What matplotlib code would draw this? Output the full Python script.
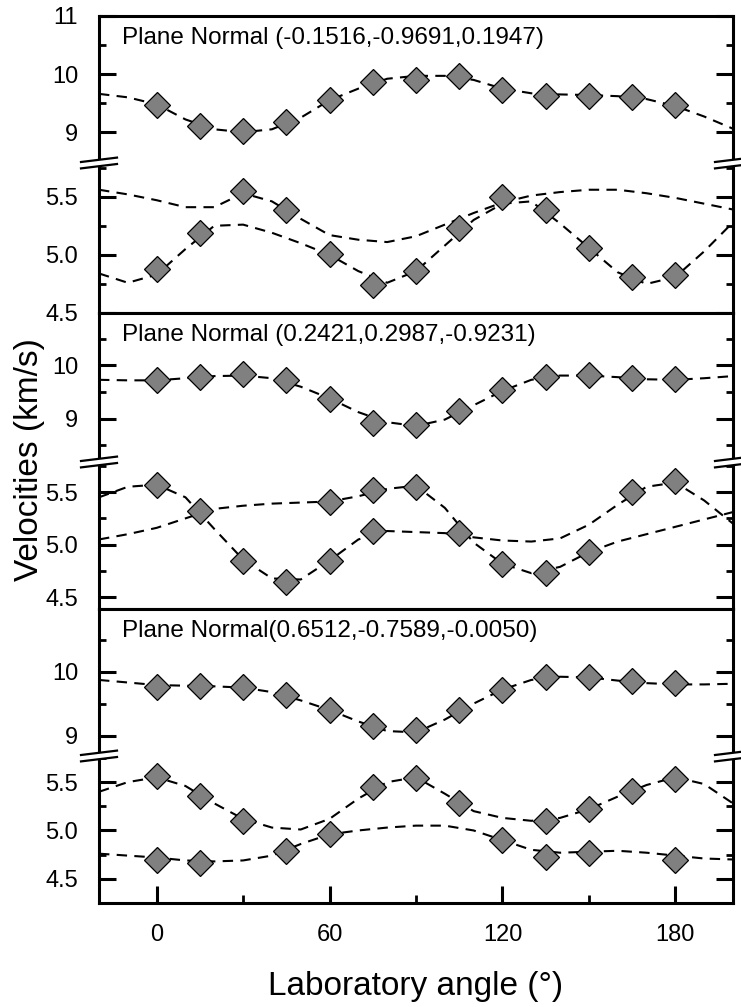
import numpy as np
import matplotlib
matplotlib.use("Agg")
from matplotlib import pyplot as plt
from matplotlib.lines import Line2D
from matplotlib.patches import Polygon
from matplotlib.ticker import MultipleLocator, FormatStrFormatter

plt.rcParams['font.family'] = ['Liberation Sans', 'DejaVu Sans']

nan = np.nan
angles = [0, 15, 30, 45, 60, 75, 90, 105, 120, 135, 150, 165, 180]
fit_angles = [-20, -10, 0, 10, 20, 30, 40, 50, 60, 70, 80, 90, 100,
              110, 120, 130, 140, 150, 160, 170, 180, 190, 200]

labels = ["Plane Normal (-0.1516,-0.9691,0.1947)",
          "Plane Normal (0.2421,0.2987,-0.9231)",
          "Plane Normal(0.6512,-0.7589,-0.0050)"]

# panel 1
p1_up_pts = [9.46, 9.10, 9.02, 9.17, 9.56, 9.87, 9.90, 9.96, 9.72, 9.63, 9.62, 9.60, 9.46]
p1_up_fit = [9.66, 9.60, 9.48, 9.22, 9.05, 9.00, 9.05, 9.25, 9.55, 9.75, 9.92, 9.97, 9.97,
             9.90, 9.75, 9.67, 9.65, 9.64, 9.62, 9.57, 9.45, 9.27, 9.06]
p1_lo_pts_a = [4.88, 5.19, 5.55, 5.39, 5.01, 4.74, 4.86, 5.23, 5.50, 5.39, 5.06, 4.81, 4.83]
p1_lo_pts_b = [nan] * 13
p1_lo_fit_a = [4.84, 4.76, 4.83, 5.05, 5.25, 5.26, 5.19, 5.10, 5.00, 4.86, 4.76, 4.86, 5.08,
               5.30, 5.44, 5.46, 5.27, 5.06, 4.85, 4.75, 4.81, 5.03, 5.28]
p1_lo_fit_b = [5.56, 5.52, 5.47, 5.41, 5.41, 5.53, 5.46, 5.31, 5.17, 5.13, 5.11, 5.16, 5.26,
               5.36, 5.45, 5.51, 5.54, 5.56, 5.56, 5.53, 5.49, 5.44, 5.39]

# panel 2
p2_up_pts = [9.72, 9.79, 9.84, 9.72, 9.37, 8.92, 8.87, 9.14, 9.53, 9.79, 9.82, 9.77, 9.75]
p2_up_fit = [9.73, 9.72, 9.72, 9.76, 9.80, 9.81, 9.76, 9.60, 9.38, 9.12, 8.93, 8.86, 8.98,
             9.25, 9.52, 9.73, 9.81, 9.81, 9.78, 9.74, 9.73, 9.76, 9.80]
p2_lo_pts_a = [5.57, 5.32, 4.85, 4.65, 4.85, 5.13, 5.55, 5.11, 4.82, 4.73, 4.93, 5.50, 5.60]
p2_lo_pts_b = [nan, nan, nan, nan, 5.41, 5.52, nan, nan, nan, nan, nan, nan, nan]
p2_lo_fit_a = [5.45, 5.55, 5.57, 5.45, 5.15, 4.86, 4.68, 4.67, 4.85, 5.05, 5.13, 5.12, 5.11,
               5.07, 5.04, 5.03, 5.06, 5.19, 5.38, 5.55, 5.59, 5.42, 5.20]
p2_lo_fit_b = [5.05, 5.10, 5.16, 5.25, 5.34, 5.37, 5.39, 5.40, 5.41, 5.46, 5.53, 5.56, 5.35,
               5.02, 4.82, 4.73, 4.79, 4.93, 5.03, 5.10, 5.17, 5.24, 5.31]

# panel 3
p3_up_pts = [9.76, 9.78, 9.76, 9.64, 9.40, 9.15, 9.09, 9.40, 9.71, 9.92, 9.92, 9.86, 9.83]
p3_up_fit = [9.87, 9.83, 9.79, 9.78, 9.77, 9.75, 9.68, 9.55, 9.40, 9.22, 9.07, 9.05, 9.25,
             9.50, 9.72, 9.87, 9.92, 9.91, 9.86, 9.82, 9.80, 9.80, 9.81]
p3_lo_pts_a = [5.56, 5.36, 5.10, 4.79, 4.96, 5.45, 5.54, 5.28, 4.90, 5.10, 5.22, 5.41, 5.53]
p3_lo_pts_b = [4.69, 4.66, nan, nan, nan, nan, nan, nan, nan, 4.73, 4.77, nan, 4.69]
p3_lo_fit_a = [5.40, 5.50, 5.55, 5.46, 5.28, 5.12, 5.03, 5.01, 5.12, 5.33, 5.50, 5.55, 5.38,
               5.20, 5.13, 5.10, 5.13, 5.22, 5.35, 5.47, 5.55, 5.48, 5.28]
p3_lo_fit_b = [4.76, 4.74, 4.72, 4.69, 4.68, 4.69, 4.74, 4.86, 4.96, 5.00, 5.03, 5.05, 5.05,
               5.00, 4.90, 4.80, 4.77, 4.78, 4.79, 4.77, 4.74, 4.71, 4.70]

panels = [
    (p1_up_pts, p1_up_fit, p1_lo_pts_a, p1_lo_pts_b, p1_lo_fit_a, p1_lo_fit_b),
    (p2_up_pts, p2_up_fit, p2_lo_pts_a, p2_lo_pts_b, p2_lo_fit_a, p2_lo_fit_b),
    (p3_up_pts, p3_up_fit, p3_lo_pts_a, p3_lo_pts_b, p3_lo_fit_a, p3_lo_fit_b),
]

up_lims = [(8.47, 11.0), (8.18, 10.99), (8.68, 10.98)]
lo_lims = [(4.5, 5.79), (4.39, 5.785), (4.25, 5.77)]

# layout in pixels
W, H = 741, 1007
left, right = 99, 733
tops = [16, 313, 609]
breaks = [163, 462, 756]
bottoms = [313, 609, 903]

fig = plt.figure(figsize=(W / 100, H / 100), dpi=100)


def fx(px):
    return px / W


def fy(py):
    return 1 - py / H


def style_axis(ax, major, minor, fmt):
    ax.set_xlim(-20, 200)
    ax.yaxis.set_major_locator(MultipleLocator(major))
    ax.yaxis.set_minor_locator(MultipleLocator(minor))
    ax.yaxis.set_major_formatter(FormatStrFormatter(fmt))
    for s in ax.spines.values():
        s.set_linewidth(2.2)
    ax.tick_params(axis='y', which='major', direction='in', length=12, width=2.2,
                   left=True, right=True, labelsize=17, pad=15)
    ax.tick_params(axis='y', which='minor', direction='in', length=5, width=2,
                   left=True, right=True)
    ax.tick_params(axis='x', which='both', bottom=False, top=False, labelbottom=False)


def draw_fit(ax, y):
    ax.plot(fit_angles, y, color='black', lw=1.5, dashes=(5, 3.5), zorder=2)


def draw_pts(ax, y):
    ax.plot(angles, y, linestyle='none', marker='D', ms=13, mfc='#808080',
            mec='black', mew=0.9, zorder=3)


def break_mark(xp, yp):
    dx, dy, sep = 18, 2.2, 3.2
    poly = Polygon([(fx(xp - dx), fy(yp + dy + sep)), (fx(xp + dx), fy(yp - dy + sep)),
                    (fx(xp + dx), fy(yp - dy - sep)), (fx(xp - dx), fy(yp + dy - sep))],
                   closed=True, transform=fig.transFigure, facecolor='white',
                   edgecolor='none', zorder=10)
    fig.add_artist(poly)
    for s in (sep, -sep):
        fig.add_artist(Line2D([fx(xp - dx), fx(xp + dx)], [fy(yp + dy + s), fy(yp - dy + s)],
                              transform=fig.transFigure, color='black', lw=1.6, zorder=11))


for i, (up_pts, up_fit, lo_a, lo_b, fit_a, fit_b) in enumerate(panels):
    t, b, bt = tops[i], breaks[i], bottoms[i]
    ax_up = fig.add_axes([fx(left), fy(b), (right - left) / W, (b - t) / H])
    ax_lo = fig.add_axes([fx(left), fy(bt), (right - left) / W, (bt - b) / H])

    draw_fit(ax_up, up_fit)
    draw_pts(ax_up, up_pts)
    draw_fit(ax_lo, fit_a)
    draw_fit(ax_lo, fit_b)
    draw_pts(ax_lo, lo_a)
    draw_pts(ax_lo, lo_b)

    style_axis(ax_up, 1, 0.5, '%d')
    style_axis(ax_lo, 0.5, 0.25, '%.1f')
    ax_up.set_ylim(*up_lims[i])
    ax_lo.set_ylim(*lo_lims[i])
    ax_up.spines['bottom'].set_visible(False)
    ax_lo.spines['top'].set_visible(False)

    ax_up.text(23 / (right - left), 1 - 22 / (b - t), labels[i], transform=ax_up.transAxes,
               fontsize=17.5, ha='left', va='center')

    break_mark(left, b)
    break_mark(right, b)

    if i == 2:
        ax_lo.set_xticks([0, 60, 120, 180])
        ax_lo.xaxis.set_minor_locator(MultipleLocator(30))
        ax_lo.tick_params(axis='x', which='major', direction='in', length=12, width=2.2,
                          bottom=True, labelbottom=True, labelsize=17, pad=15)
        ax_lo.tick_params(axis='x', which='minor', direction='in', length=6, width=2,
                          bottom=True)

fig.text(fx(30), fy(460), "Velocities (km/s)", rotation=90, fontsize=24,
         ha='center', va='center')
fig.text(fx(416), fy(987), "Laboratory angle (°)", fontsize=24,
         ha='center', va='center')

fig.savefig("out.png", dpi=100)
